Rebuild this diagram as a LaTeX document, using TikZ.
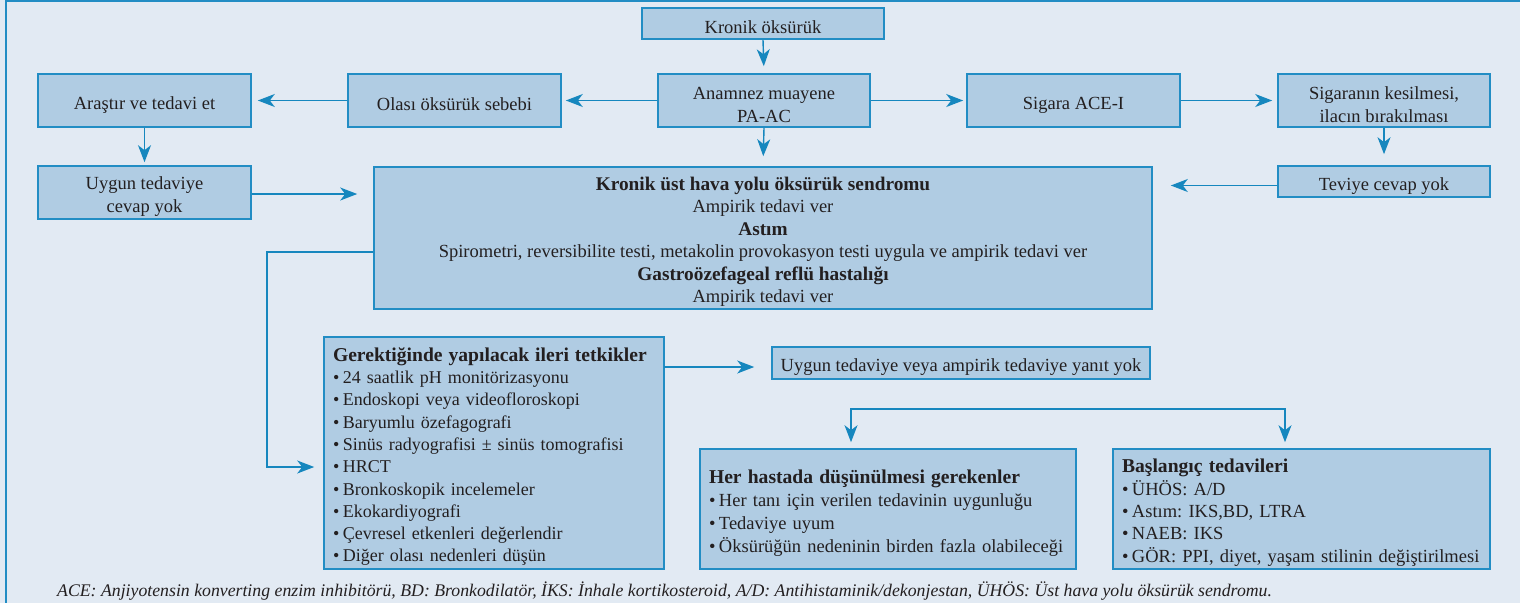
\documentclass[tikz,border=0pt]{standalone}
\usepackage{fontspec}
\setmainfont{Liberation Serif}
\usetikzlibrary{arrows.meta,calc}
\frenchspacing
\definecolor{bgc}{RGB}{226,234,243}
\definecolor{fillc}{RGB}{176,204,227}
\definecolor{linec}{RGB}{34,141,196}
\definecolor{arrc}{RGB}{22,135,190}
\definecolor{txtc}{RGB}{35,31,32}
\newcommand{\bul}{•\hspace{3.5pt}}
\newcommand{\mystrut}{\rule{0pt}{21pt}}
\newcommand{\hdb}[1]{{\fontsize{19.3}{22.4}\selectfont\bfseries #1}}
\newcommand{\hdl}[1]{{\fontsize{19.6}{22.4}\selectfont\bfseries #1}}
\tikzset{
  box/.style={draw=linec, fill=fillc, line width=1.6pt, inner sep=0pt, align=center, text=txtc,
    font=\frenchspacing\fontsize{18.5}{22.4}\selectfont},
  listbox/.style={box, align=left},
  arr/.style={draw=arrc, line width=1.4pt, -{Stealth[length=17pt,width=13pt,inset=5pt]}},
  dbl/.style={draw=arrc, line width=1.4pt, {Stealth[length=17pt,width=13pt,inset=5pt]}-{Stealth[length=17pt,width=13pt,inset=5pt]}},
}
\begin{document}
\begin{tikzpicture}[x=1pt,y=-1pt]
\fill[bgc] (0,0) rectangle (1520,603);
\useasboundingbox (0,0) rectangle (1520,603);
\draw[linec, line width=2pt] (6,1) -- (1520,1);
\draw[linec, line width=2pt] (6,0) -- (6,603);

\node[box, minimum width=242pt, minimum height=31pt] (k) at (763,23.5) {\mystrut Kronik öksürük};
\node[box, minimum width=212pt, minimum height=53pt] (a) at (764,100.5) {\mystrut Anamnez muayene\\PA-AC};
\node[box, minimum width=213pt, minimum height=53pt] (o) at (454.5,100.5) {\mystrut Olası öksürük sebebi};
\node[box, minimum width=213pt, minimum height=53pt] (r) at (144.5,100.5) {\mystrut Araştır ve tedavi et};
\node[box, minimum width=213pt, minimum height=53pt] (s) at (1073.5,100.5) {\mystrut Sigara ACE-I};
\node[box, minimum width=212pt, minimum height=53pt] (sk) at (1384,100.5) {\mystrut Sigaranın kesilmesi,\\ilacın bırakılması};
\node[box, minimum width=213pt, minimum height=53pt] (u) at (144.5,192.5) {\mystrut Uygun tedaviye\\cevap yok};
\node[box, minimum width=212pt, minimum height=31pt] (t) at (1384,181.5) {\mystrut Teviye cevap yok};
\node[box, minimum width=778pt, minimum height=142pt] (big) at (763,238)
  {\mystrut\hdb{Kronik üst hava yolu öksürük sendromu}\\
   Ampirik tedavi ver\\
   \hdb{Astım}\\
   Spirometri, reversibilite testi, metakolin provokasyon testi uygula ve ampirik tedavi ver\\
   \hdb{Gastroözefageal reflü hastalığı}\\
   Ampirik tedavi ver};
\node[listbox, minimum width=340pt, minimum height=232pt, text width=322pt, font=\frenchspacing\fontsize{18}{22.3}\selectfont] (g) at (494,453)
  {\mystrut\hdl{Gerektiğinde yapılacak ileri tetkikler}\\
   \bul 24 saatlik pH monitörizasyonu\\
   \bul Endoskopi veya videofloroskopi\\
   \bul Baryumlu özefagografi\\
   \bul Sinüs radyografisi ± sinüs tomografisi\\
   \bul HRCT\\
   \bul Bronkoskopik incelemeler\\
   \bul Ekokardiyografi\\
   \bul Çevresel etkenleri değerlendir\\
   \bul Diğer olası nedenleri düşün};
\node[box, minimum width=378pt, minimum height=32pt] (y) at (961,363) {\mystrut Uygun tedaviye veya ampirik tedaviye yanıt yok};
\node[listbox, minimum width=376pt, minimum height=120pt, text width=358pt, font=\frenchspacing\fontsize{18.5}{23}\selectfont] (h) at (888,509)
  {\mystrut\hdl{Her hastada düşünülmesi gerekenler}\\
   \bul Her tanı için verilen tedavinin uygunluğu\\
   \bul Tedaviye uyum\\
   \bul Öksürüğün nedeninin birden fazla olabileceği};
\node[listbox, minimum width=377pt, minimum height=120pt, text width=359pt] (b) at (1301.5,509)
  {\mystrut\hdl{Başlangıç tedavileri}\\
   \bul ÜHÖS: A/D\\
   \bul Astım: IKS,BD, LTRA\\
   \bul NAEB: IKS\\
   \bul GÖR: PPI, diyet, yaşam stilinin değiştirilmesi};

\node[anchor=west, inner sep=0pt, text=txtc, font=\frenchspacing\itshape\fontsize{17.75}{20}\selectfont] (fn) at (57,591)
  {ACE: Anjiyotensin konverting enzim inhibitörü, BD: Bronkodilatör, İKS: İnhale kortikosteroid, A/D: Antihistaminik/dekonjestan, ÜHÖS: Üst hava yolu öksürük sendromu.};

\draw[arr, shorten >=7pt] (k.south) -- (a.north);
\draw[arr, shorten >=4pt] (a.west) -- (o.east);
\draw[arr, shorten >=6pt] (o.west) -- (r.east);
\draw[arr, shorten >=3pt] (a.east) -- (s.west);
\draw[arr, shorten >=5pt] (s.east) -- (sk.west);
\draw[arr, shorten >=3pt] (r.south) -- (u.north);
\draw[arr, shorten >=11pt] (sk.south) -- (t.north);
\draw[arr, shorten >=10pt] (a.south) -- (big.north);
\draw[arr, shorten >=16pt] ([yshift=-1.5pt]u.east) -- ([yshift=-1.5pt]u.east -| big.west);
\draw[arr, shorten >=18pt] ([yshift=-4pt]t.west) -- ([yshift=-4pt]t.west -| big.east);
\coordinate (lc) at (267,252);
\draw[arr, shorten >=9pt] (big.west |- lc) -- (lc) |- ([yshift=-14pt]g.west);
\coordinate (gy) at (664,367);
\draw[arr, shorten >=17pt] (gy) -- (gy -| y.west);
\coordinate (sp1) at (851,409);
\coordinate (sp2) at (1285,409);
\draw[dbl, shorten >=6pt, shorten <=6pt] (sp1 |- h.north) -- (sp1) -- (sp2) -- (sp2 |- b.north);
\end{tikzpicture}
\end{document}
